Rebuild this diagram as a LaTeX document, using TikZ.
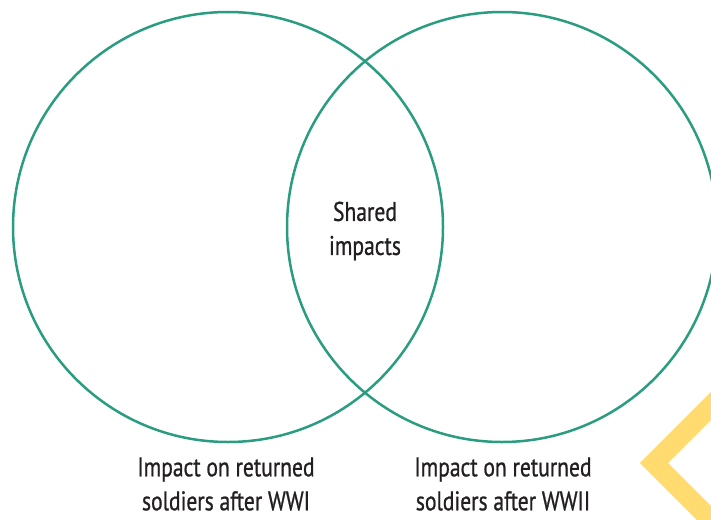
\documentclass[tikz,border=0pt]{standalone}
\usepackage{fontspec}
\setmainfont[FakeStretch=0.8,FakeBold=0.8]{PT Sans}
\definecolor{venngreen}{HTML}{2A9D80}
\definecolor{chevyellow}{HTML}{FFDB70}
\definecolor{textgray}{HTML}{231F20}
\begin{document}
\begin{tikzpicture}[x=1pt,y=-1pt,
    lbl/.style={align=center,text=textgray,font=\fontsize{27}{34}\selectfont,inner sep=0pt}]
			\useasboundingbox (0,0) rectangle (711,519);
			\clip (0,0) rectangle (711,519);
			\coordinate (A) at (228,227);
			\coordinate (B) at (502,227);

			% yellow corner mark
			\draw[chevyellow,line width=20pt,miter limit=10] (654,463) -- ++(60,-60) -- ++(60,60) -- ++(-60,60) -- cycle;

			\begin{scope}[venngreen,line width=2.5pt]
			    \draw (A) circle (215);
			    \draw (B) circle (215);
			\end{scope}

			\node[lbl] (shared) at (365,231) {Shared\\impacts};
			\node[lbl] (wwi) at (226,484) {Impact on returned\\soldiers after WWI};
			\node[lbl] (wwii) at (503,484) {Impact on returned\\soldiers after WWII};
		    \end{tikzpicture}
\end{document}
